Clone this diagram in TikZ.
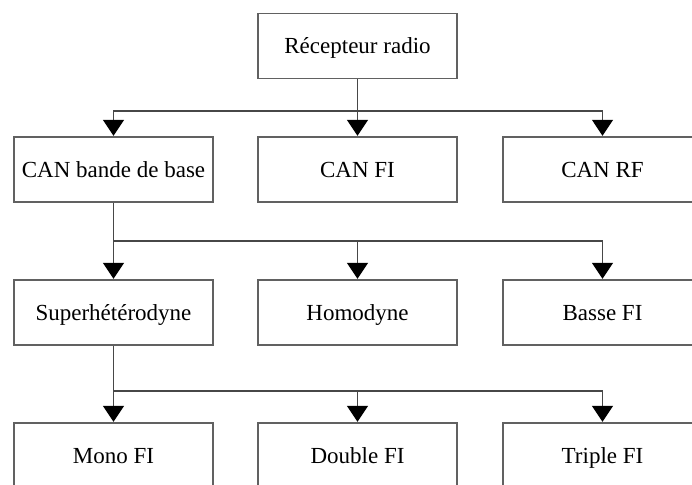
\documentclass[tikz,border=0pt]{standalone}
\usepackage{fontspec}
\setmainfont{Liberation Serif}
\usetikzlibrary{arrows.meta}
\definecolor{linecol}{rgb}{0.28,0.28,0.28}
\definecolor{boxcol}{rgb}{0.38,0.38,0.38}
\tikzset{
  blk/.style={draw=boxcol, line width=1.2pt, minimum width=199pt, minimum height=65pt,
    inner sep=0pt, text height=15pt, text depth=0pt,
    font=\fontsize{23}{27}\selectfont, text=black},
  conn/.style={draw=linecol, line width=1.2pt},
  arr/.style={conn, -{Triangle[width=21pt,length=16pt,color=black]}, shorten >=0.6pt}
}
\begin{document}
\begin{tikzpicture}[x=1pt,y=-1pt]
\useasboundingbox (0,0) rectangle (692,484);
\clip (0,0) rectangle (692,484);
\fill[white] (0,0) rectangle (692,484);
% nodes
\node[blk] (top) at (357.5,46) {Récepteur radio};
\node[blk] (a1) at (113.5,169.5) {CAN bande de base};
\node[blk] (a2) at (357.5,169.5) {CAN FI};
\node[blk] (a3) at (602.5,169.5) {CAN RF};
\node[blk] (b1) at (113.5,312.5) {Superhétérodyne};
\node[blk] (b2) at (357.5,312.5) {Homodyne};
\node[blk] (b3) at (602.5,312.5) {Basse FI};
\node[blk] (c1) at (113.5,455.5) {Mono FI};
\node[blk] (c2) at (357.5,455.5) {Double FI};
\node[blk] (c3) at (602.5,455.5) {Triple FI};
% junctions
\coordinate (j1) at (357.5,111);
\coordinate (j2) at (113.5,241);
\coordinate (j3) at (113.5,391);
% level 1
\draw[conn] (top.south) -- (j1);
\draw[arr] (j1) -| (a1.north);
\draw[arr] (j1) -- (a2.north);
\draw[arr] (j1) -| (a3.north);
% level 2
\draw[conn] (a1.south) -- (j2);
\draw[arr] (j2) -- (b1.north);
\draw[arr] (j2) -| (b2.north);
\draw[arr] (j2) -| (b3.north);
% level 3
\draw[conn] (b1.south) -- (j3);
\draw[arr] (j3) -- (c1.north);
\draw[arr] (j3) -| (c2.north);
\draw[arr] (j3) -| (c3.north);
\end{tikzpicture}
\end{document}
